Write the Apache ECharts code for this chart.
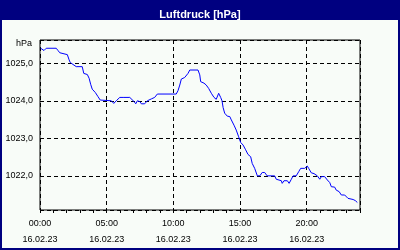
<!DOCTYPE html>
<html><head><meta charset="utf-8">
<script src="https://cdn.jsdelivr.net/npm/echarts@6/dist/echarts.min.js"></script>
<style>html,body{margin:0;padding:0;background:#F8FCF8}#c{width:400px;height:250px}</style>
</head><body><div id="c"></div>
<script>
var titleText = 'Luftdruck [hPa]';
var unitLabel = 'hPa';
var dateLabel = '16.02.23';
var xTickHours = [0, 5, 10, 15, 20];
var yTicks = [1022, 1023, 1024, 1025];
// minutes after midnight
var minutes = [3,18,28,73,81,89,96,123,131,136,145,163,190,197,213,221,228,235,249,261,271,321,332,343,359,366,374,404,411,423,431,438,449,456,471,483,501,516,528,613,621,629,636,651,666,674,711,719,723,738,748,759,771,783,793,804,813,819,824,831,843,854,861,873,883,894,903,914,924,936,948,955,966,978,989,1000,1011,1022,1056,1063,1071,1086,1090,1098,1113,1121,1131,1139,1153,1164,1173,1191,1203,1209,1221,1233,1248,1259,1266,1281,1293,1304,1311,1326,1333,1338,1346,1356,1371,1386,1409,1419,1428];
var pressure = [1025.40,1025.34,1025.40,1025.40,1025.34,1025.28,1025.23,1025.23,1025.09,1025.02,1025.00,1024.91,1024.91,1024.73,1024.70,1024.60,1024.44,1024.31,1024.22,1024.11,1024.02,1024.00,1023.93,1024.00,1024.09,1024.05,1024.09,1024.09,1024.04,1023.98,1023.92,1024.00,1023.98,1023.92,1023.92,1024.00,1024.05,1024.09,1024.18,1024.18,1024.27,1024.42,1024.58,1024.62,1024.73,1024.82,1024.82,1024.69,1024.51,1024.47,1024.42,1024.33,1024.20,1024.09,1024.04,1024.20,1024.09,1024.00,1023.82,1023.67,1023.59,1023.58,1023.49,1023.35,1023.22,1023.04,1022.89,1022.82,1022.71,1022.57,1022.51,1022.33,1022.20,1022.00,1022.00,1022.09,1022.09,1022.00,1022.00,1021.91,1021.87,1021.87,1021.80,1021.87,1021.87,1021.80,1021.91,1022.00,1022.00,1022.11,1022.20,1022.20,1022.26,1022.20,1022.08,1022.06,1022.00,1021.91,1021.98,1021.98,1021.89,1021.82,1021.71,1021.70,1021.62,1021.67,1021.58,1021.49,1021.49,1021.40,1021.37,1021.34,1021.29];

var data = minutes.map(function (m, i) { return [m / 60, pressure[i]]; });
var FONT = 'Liberation Sans';
function pad(n){ return (n < 10 ? '0' : '') + n; }

var chart = echarts.init(document.getElementById('c'), null, {renderer: 'canvas'});
chart.setOption({
  animation: false,
  backgroundColor: '#F8FCF8',
  title: {
    text: titleText, left: 'center', top: 3,
    textStyle: {color: '#FFFFFF', fontFamily: FONT, fontWeight: 'bold', fontSize: 11, lineHeight: 14}
  },
  graphic: [
    {type: 'rect', z: -1, shape: {x: 0, y: 0, width: 400, height: 20}, style: {fill: '#000080'}},
    {type: 'rect', z: 100, shape: {x: 1, y: 1, width: 398, height: 248}, style: {fill: 'none', stroke: '#000080', lineWidth: 2}},
    {type: 'text', left: 16, top: 39, style: {text: unitLabel, fill: '#000', font: '9px "Liberation Sans"'}}
  ],
  grid: {left: 40, top: 40, width: 320, height: 170, show: true, borderColor: '#000', borderWidth: 1, backgroundColor: 'transparent'},
  xAxis: [{
    type: 'value', min: 0, max: 24, interval: 5,
    axisLine: {show: false},
    axisTick: {show: true, length: 3, lineStyle: {color: '#000'}},
    axisLabel: {
      showMaxLabel: false, margin: 6, color: '#000', fontFamily: FONT, fontSize: 9, lineHeight: 16,
      formatter: function (v) { return xTickHours.indexOf(v) >= 0 ? pad(v) + ':00\n' + dateLabel : ''; }
    },
    splitLine: {show: true, lineStyle: {color: '#000', type: [4, 3], width: 1}}
  }, {
    type: 'value', min: 0, max: 24, interval: 1, position: 'bottom',
    axisLine: {show: false},
    axisTick: {show: true, length: 3, lineStyle: {color: '#000'}},
    axisLabel: {show: false},
    splitLine: {show: false}
  }],
  yAxis: {
    type: 'value', min: 1021.09, max: 1025.62,
    axisLine: {show: false}, axisTick: {show: false},
    axisLabel: {
      showMinLabel: false, showMaxLabel: false, margin: 7, color: '#000', fontFamily: FONT, fontSize: 9,
      formatter: function (v) { return yTicks.indexOf(Math.round(v * 100) / 100) >= 0 ? v.toFixed(1).replace('.', ',') : ''; }
    },
    splitLine: {show: true, lineStyle: {color: '#000', type: [4, 3], width: 1}}
  },
  series: [{
    type: 'line', data: data, xAxisIndex: 0, showSymbol: false, symbol: 'none',
    lineStyle: {color: '#0000FF', width: 1}
  }]
});
</script></body></html>
